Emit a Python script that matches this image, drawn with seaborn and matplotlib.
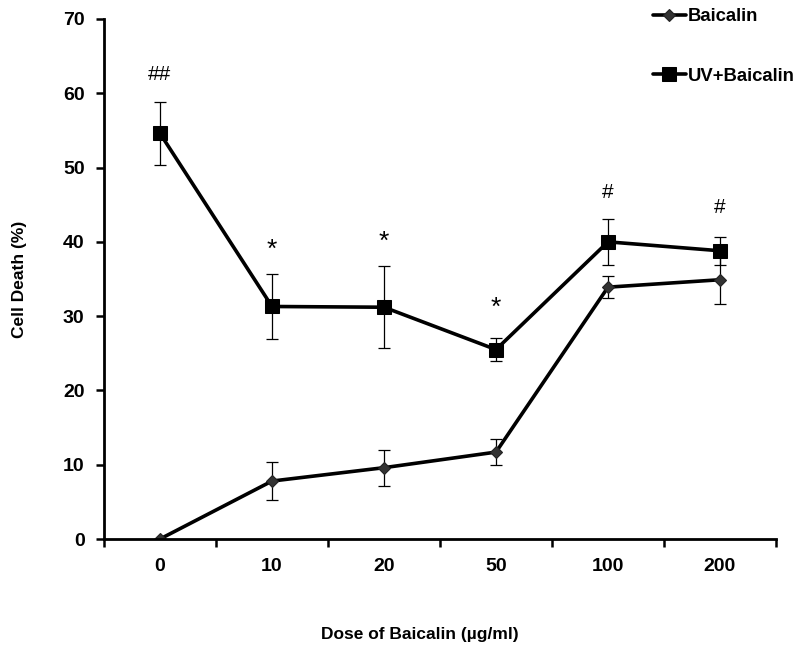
import seaborn as sns
import matplotlib.pyplot as plt
import pandas as pd
import numpy as np

# data
doses = ["0", "10", "20", "50", "100", "200"]
baicalin = [0.0, 7.8, 9.6, 11.7, 33.9, 34.9]
baicalin_err = [0.0, 2.5, 2.4, 1.8, 1.5, 3.2]
uv_baicalin = [54.6, 31.3, 31.2, 25.5, 40.0, 38.8]
uv_baicalin_err = [4.2, 4.4, 5.5, 1.6, 3.1, 1.9]
marks = ["##", "*", "*", "*", "#", "#"]
mark_y = [62.5, 39.4, 40.5, 31.6, 46.6, 44.6]

series_names = ["Baicalin", "UV+Baicalin"]

df = pd.DataFrame({
    "pos": list(range(len(doses))) * 2,
    "value": baicalin + uv_baicalin,
    "err": baicalin_err + uv_baicalin_err,
    "series": [series_names[0]] * len(doses) + [series_names[1]] * len(doses),
})

sns.set_theme(style="ticks")
plt.rcParams["font.family"] = ["Liberation Sans", "DejaVu Sans"]
plt.rcParams["text.color"] = "black"
plt.rcParams["axes.labelcolor"] = "black"
plt.rcParams["xtick.color"] = "black"
plt.rcParams["ytick.color"] = "black"

fig = plt.figure(figsize=(8, 6.57), dpi=100)
ax = fig.add_axes([0.13, 0.1796, 0.84, 0.7915])

sns.lineplot(
    data=df, x="pos", y="value", hue="series", style="series",
    markers={"Baicalin": "D", "UV+Baicalin": "s"}, dashes=False,
    palette=["black", "black"], linewidth=2.6, ax=ax, legend=False,
)

for ln, name in zip(ax.lines, series_names):
    if name == "Baicalin":
        ln.set_markersize(6)
        ln.set_markerfacecolor("#333333")
        ln.set_markeredgecolor("#222222")
        ln.set_markeredgewidth(0.8)
    else:
        ln.set_markersize(10)
        ln.set_markerfacecolor("black")
        ln.set_markeredgecolor("black")
    ln.set_label(name)

for name in series_names:
    sub = df[df["series"] == name]
    ax.errorbar(sub["pos"], sub["value"], yerr=sub["err"], fmt="none",
                ecolor="black", elinewidth=0.9, capsize=4, capthick=0.9, zorder=1)

for i, (m, y) in enumerate(zip(marks, mark_y)):
    if m == "*":
        ax.text(i, y - 0.5, m, ha="center", va="center", fontsize=19)
    else:
        ax.text(i, y, m, ha="center", va="center", fontsize=15)

ax.set_xlim(-0.5, len(doses) - 0.5)
ax.set_ylim(0, 70)
ax.set_yticks(np.arange(0, 71, 10))
ax.set_xticks(range(len(doses)))
ax.set_xticklabels(doses)
ax.set_xticks(np.arange(-0.5, len(doses), 1), minor=True)
ax.tick_params(axis="x", which="major", length=0, pad=14, labelsize=14)
ax.tick_params(axis="x", which="minor", length=6, width=1.8, direction="out")
ax.tick_params(axis="y", length=6, width=1.8, direction="out", pad=8, labelsize=14)
for lab in ax.get_xticklabels() + ax.get_yticklabels():
    lab.set_fontweight("bold")

for s in ["top", "right"]:
    ax.spines[s].set_visible(False)
for s in ["left", "bottom"]:
    ax.spines[s].set_linewidth(2)
    ax.spines[s].set_color("black")

ax.set_xlabel("Dose of Baicalin (µg/ml)", fontsize=12.5, fontweight="bold")
ax.set_ylabel("Cell Death (%)", fontsize=12.5, fontweight="bold")
ax.xaxis.set_label_coords(0.47, -0.17)
ax.yaxis.set_label_coords(-0.115, 0.5)

handles = ax.lines[:2]
fig.legend(handles, series_names, loc="upper left", bbox_to_anchor=(0.795, 1.013),
           frameon=False, prop={"weight": "bold", "size": 13.3},
           handlelength=1.8, handletextpad=0.1, labelspacing=2.3)

fig.savefig("out.png", dpi=100)
